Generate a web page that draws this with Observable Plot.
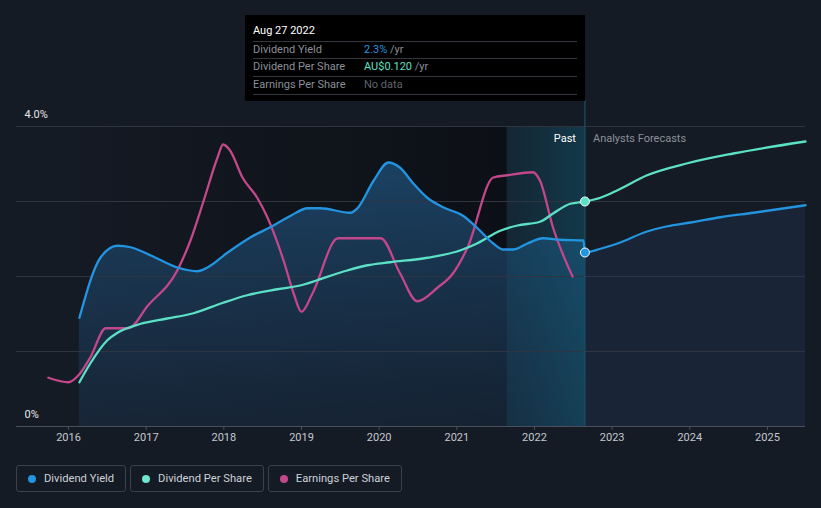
<!DOCTYPE html>
<html><head><meta charset="utf-8">
<script src="https://cdn.jsdelivr.net/npm/d3@7"></script>
<script src="https://cdn.jsdelivr.net/npm/@observablehq/plot@0.6"></script>
<style>
html,body{margin:0;padding:0;background:#151b25;}
body{font-family:Roboto,"Noto Sans",sans-serif;}
#wrap{position:relative;width:821px;height:508px;overflow:hidden;background:#151b25;}
#chart{position:absolute;left:0;top:0;}
#tip{position:absolute;left:245px;top:15px;width:340px;height:86px;background:#000;font-size:11px;color:#8a8f98;}
#tip .date{position:absolute;left:8px;top:9px;color:#fff;font-size:11px;}
#tip .row{position:absolute;left:8px;width:324px;height:17px;border-top:1px solid #34373d;line-height:16px;}
#tip .row span.l{position:absolute;left:0;}
#tip .row span.v{position:absolute;left:111px;}
#legend{position:absolute;left:16px;top:465px;display:flex;gap:4px;}
.lg{height:27px;border:1px solid #3b414c;border-radius:3px;display:flex;align-items:center;padding:0 11px 0 11px;color:#cdd1d8;font-size:11.2px;box-sizing:border-box;}
.lg i{display:inline-block;width:8px;height:8px;border-radius:50%;margin-right:8px;}
</style></head>
<body><div id="wrap"><div id="chart"></div><div id="tip"></div><div id="legend"></div></div>
<script>
// ---- data (chart units: 1 unit = 1% on the left axis) ----
const yieldPastX = [2016.14,2016.41,2016.63,2016.80,2017.06,2017.40,2017.66,2017.79,2018.05,2018.34,2018.64,2018.86,2019.08,2019.24,2019.63,2019.72,2019.93,2020.12,2020.27,2020.44,2020.62,2020.83,2021.08,2021.26,2021.47,2021.60,2021.73,2021.91,2022.11,2022.33,2022.63];
const yieldPastV = [1.45,2.25,2.41,2.39,2.28,2.12,2.07,2.12,2.32,2.52,2.68,2.81,2.91,2.91,2.85,2.91,3.28,3.52,3.45,3.24,3.05,2.92,2.81,2.65,2.44,2.36,2.36,2.44,2.51,2.49,2.48];
const yieldFcX = [2022.65,2022.85,2023.07,2023.45,2023.71,2024.01,2024.39,2024.82,2025.49];
const yieldFcV = [2.32,2.37,2.44,2.60,2.67,2.72,2.79,2.85,2.95];
const dpsX = [2016.14,2016.28,2016.50,2016.63,2016.93,2017.27,2017.61,2017.99,2018.30,2018.69,2019.02,2019.20,2019.59,2019.85,2020.14,2020.62,2021.05,2021.26,2021.56,2021.78,2022.07,2022.24,2022.46,2022.65,2022.85,2023.07,2023.45,2023.97,2024.56,2025.49];
const dpsV = [0.59,0.84,1.15,1.25,1.37,1.44,1.51,1.65,1.75,1.83,1.89,1.95,2.08,2.15,2.19,2.25,2.35,2.44,2.61,2.68,2.73,2.84,2.97,3.00,3.05,3.15,3.35,3.51,3.64,3.80];
const epsX = [2015.74,2016.00,2016.15,2016.28,2016.48,2016.77,2017.02,2017.40,2017.57,2017.74,2017.92,2017.99,2018.08,2018.24,2018.43,2018.56,2018.77,2018.90,2019.00,2019.14,2019.47,2020.02,2020.27,2020.49,2020.75,2020.95,2021.14,2021.47,2021.65,2021.98,2022.07,2022.24,2022.49];
const epsV = [0.65,0.59,0.71,0.92,1.31,1.31,1.61,2.08,2.48,3.01,3.59,3.76,3.68,3.32,3.05,2.79,2.21,1.77,1.53,1.77,2.51,2.51,2.04,1.67,1.85,2.04,2.39,3.32,3.35,3.39,3.28,2.65,2.00];
const yearTicks = [2016,2017,2018,2019,2020,2021,2022,2023,2024,2025];
const gridTicks = [0,1,2,3,4];
const yLabels = [{v:0,t:"0%"},{v:4,t:"4.0%"}];
const dpsPerUnit = 0.04; // AU$ per chart unit
const tipDate = "Aug 27 2022";
const nowX = 2022.65, lastYearX = 2021.65, startX = 2016.14;
const seriesNames = ["Dividend Yield","Dividend Per Share","Earnings Per Share"];
const colors = {yield:"#2394df", dps:"#5ce1c6", eps:"#c2478b"};

const zip = (xs, vs) => xs.map((x,i)=>({x, v:vs[i]}));
const yieldPast = zip(yieldPastX, yieldPastV);
const yieldFc = zip(yieldFcX, yieldFcV);
const yieldAll = yieldPast.concat(yieldFc);
const dps = zip(dpsX, dpsV);
const eps = zip(epsX, epsV);

const defs = () => {
  const d = d3.create("svg:defs");
  const g1 = d.append("linearGradient").attr("id","pastGrad").attr("x1","0").attr("x2","1").attr("y1","0").attr("y2","0");
  g1.append("stop").attr("offset","0").attr("stop-color","#000").attr("stop-opacity",0.05);
  g1.append("stop").attr("offset","1").attr("stop-color","#000").attr("stop-opacity",0.42);
  const g2 = d.append("linearGradient").attr("id","areaGrad").attr("x1","0").attr("x2","0").attr("y1","0").attr("y2","1");
  g2.append("stop").attr("offset","0").attr("stop-color","#1d4a70").attr("stop-opacity",0.85);
  g2.append("stop").attr("offset","1").attr("stop-color","#1a2d44").attr("stop-opacity",0.6);
  const g3 = d.append("linearGradient").attr("id","bandGrad").attr("x1","0").attr("x2","1").attr("y1","0").attr("y2","0");
  g3.append("stop").attr("offset","0").attr("stop-color","#0f5c78").attr("stop-opacity",0.18);
  g3.append("stop").attr("offset","1").attr("stop-color","#0f7090").attr("stop-opacity",0.35);
  return d.node();
};

const chart = Plot.plot({
  width: 821, height: 450,
  marginLeft: 16, marginRight: 16, marginTop: 126, marginBottom: 24,
  style: {background: "transparent", color: "#c4c8cf", fontFamily: "Roboto, sans-serif", fontSize: "11px", overflow: "visible"},
  x: {domain: [2015.33, 2025.49], label: null},
  y: {domain: [0, 4], axis: null},
  marks: [
    defs,
    Plot.rect([{a: startX, b: lastYearX}], {x1: "a", x2: "b", y1: 0, y2: 4, fill: "url(#pastGrad)"}),
    Plot.areaY(yieldFc, {x: "x", y: "v", curve: "monotone-x", fill: "#1b2a3c", fillOpacity: 0.75}),
    Plot.areaY(yieldPast.concat([{x: nowX, v: yieldFcV[0]}]), {x: "x", y: "v", curve: "monotone-x", fill: "url(#areaGrad)"}),
    Plot.rect([{a: lastYearX, b: nowX}], {x1: "a", x2: "b", y1: 0, y2: 4, fill: "url(#bandGrad)"}),
    Plot.ruleY(gridTicks, {y: d => d, stroke: "#2e3440", strokeWidth: 1}),
    Plot.ruleY([0], {stroke: "#4a505b"}),
    Plot.ruleX([nowX], {y1: 0, y2: 4.35, stroke: "#1f5a70", strokeWidth: 1}),
    Plot.axisX({ticks: yearTicks, tickFormat: d => String(d), tickSize: 4, tickPadding: 3, stroke: "#4a505b", fill: "#c4c8cf", fontSize: 11}),
    Plot.line(eps, {x: "x", y: "v", curve: "monotone-x", stroke: colors.eps, strokeWidth: 2.3}),
    Plot.line(dps, {x: "x", y: "v", curve: "monotone-x", stroke: colors.dps, strokeWidth: 2.3}),
    Plot.line(yieldAll, {x: "x", y: "v", curve: "monotone-x", stroke: colors.yield, strokeWidth: 2.3}),
    Plot.dot([{x: nowX, v: dpsV[dpsX.indexOf(nowX)]}], {x: "x", y: "v", r: 4.5, fill: colors.dps, stroke: "#ffffff", strokeWidth: 1}),
    Plot.dot([{x: nowX, v: yieldFcV[0]}], {x: "x", y: "v", r: 4.5, fill: colors.yield, stroke: "#ffffff", strokeWidth: 1}),
    Plot.text(yLabels, {y: "v", text: "t", frameAnchor: "left", dx: 8, dy: -12, textAnchor: "start", fill: "#e6e8eb", fontSize: 11}),
    Plot.text(["Past"], {x: nowX, y: 4, text: d => d, dx: -9, dy: 12, textAnchor: "end", fill: "#ffffff", fontSize: 11}),
    Plot.text(["Analysts Forecasts"], {x: nowX, y: 4, text: d => d, dx: 8, dy: 12, textAnchor: "start", fill: "#8b9099", fontSize: 11})
  ]
});
document.getElementById("chart").appendChild(chart);

// tooltip
const tip = document.getElementById("tip");
const yv = yieldFcV[0];
const dv = dpsV[dpsX.indexOf(nowX)] * dpsPerUnit;
tip.innerHTML = `<div class="date">${tipDate}</div>
<div class="row" style="top:26px"><span class="l">${seriesNames[0]}</span><span class="v"><span style="color:${colors.yield}">${yv.toFixed(1)}%</span> /yr</span></div>
<div class="row" style="top:43px"><span class="l">${seriesNames[1]}</span><span class="v"><span style="color:${colors.dps}">AU$${dv.toFixed(3)}</span> /yr</span></div>
<div class="row" style="top:61px;border-bottom:1px solid #34373d"><span class="l">${seriesNames[2]}</span><span class="v" style="color:#5f646c">No data</span></div>`;

// legend
const lg = document.getElementById("legend");
[[seriesNames[0], colors.yield],[seriesNames[1], "#6ee6d0"],[seriesNames[2], colors.eps]].forEach(([n,c]) => {
  const el = document.createElement("div"); el.className = "lg";
  el.innerHTML = `<i style="background:${c}"></i>${n}`;
  lg.appendChild(el);
});
</script></body></html>
